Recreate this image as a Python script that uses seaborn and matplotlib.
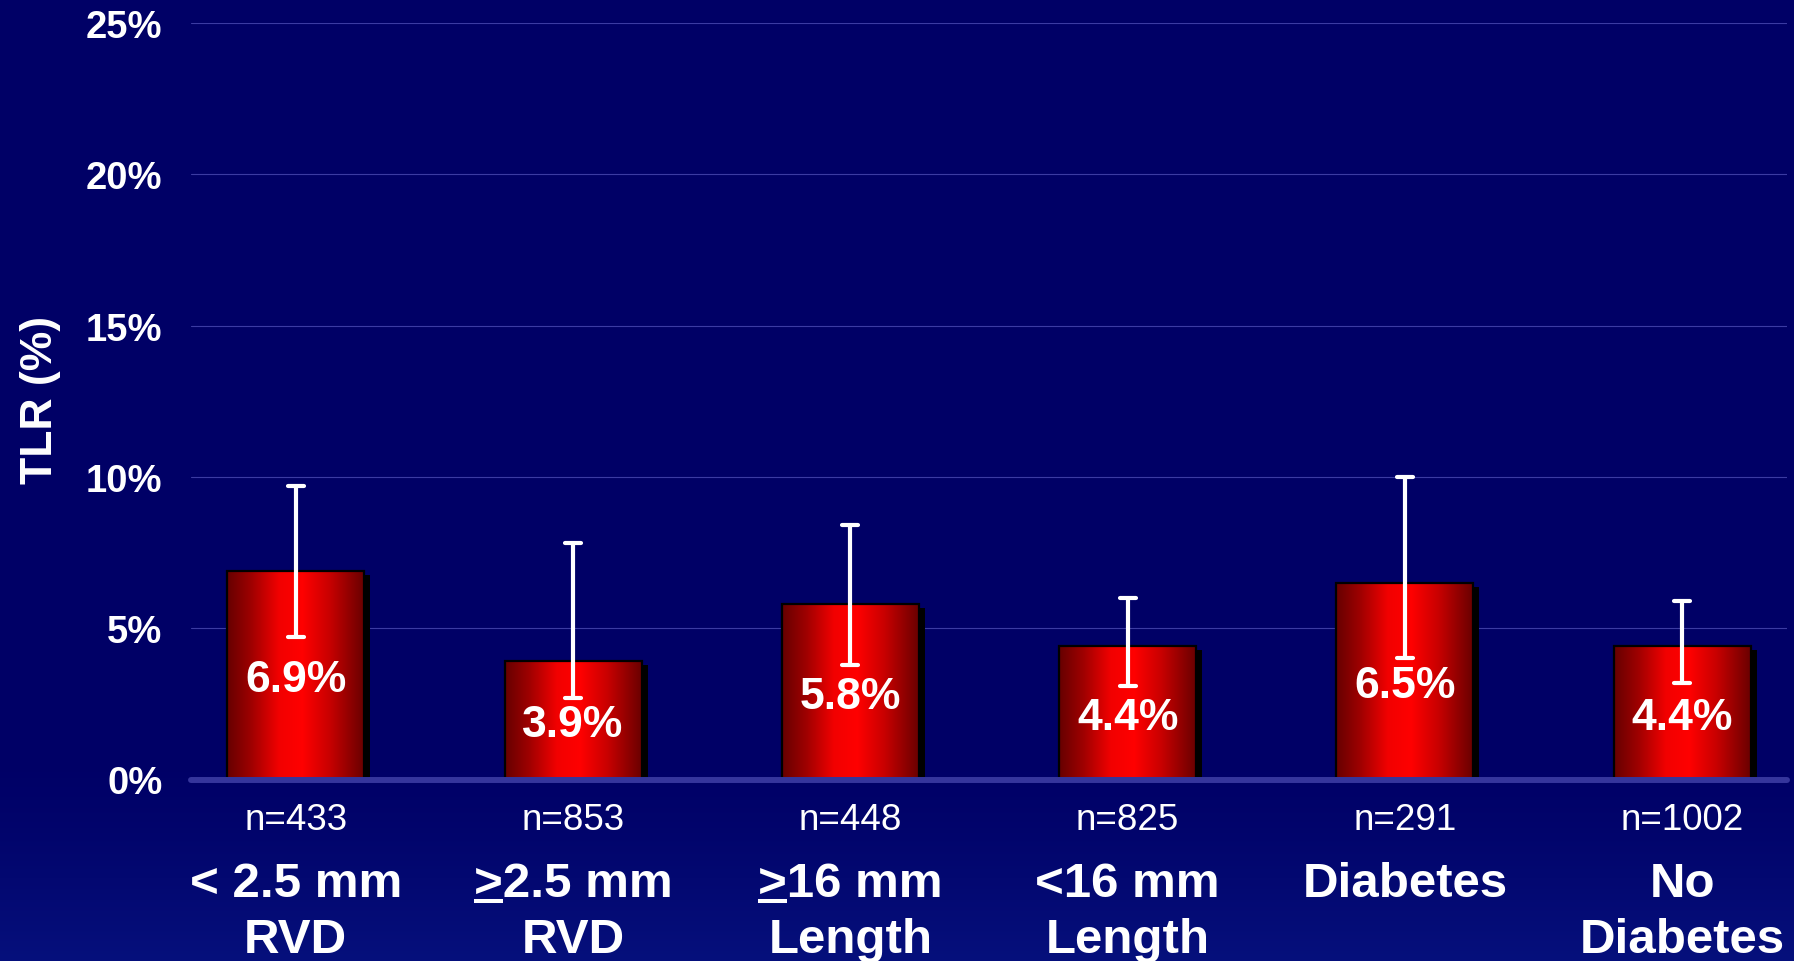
import numpy as np
import pandas as pd
import matplotlib
matplotlib.use("Agg")
import matplotlib.pyplot as plt
import seaborn as sns
from matplotlib.patches import Rectangle
from matplotlib.colors import LinearSegmentedColormap
from matplotlib.transforms import ScaledTranslation
from matplotlib.markers import MarkerStyle
from matplotlib.lines import Line2D

# ---- data -------------------------------------------------------------
groups = ["< 2.5 mm RVD", "\u22652.5 mm RVD", "\u226516 mm Length",
          "<16 mm Length", "Diabetes", "No Diabetes"]
tlr = [6.9, 3.9, 5.8, 4.4, 6.5, 4.4]
ci_low = [4.7, 2.7, 3.8, 3.1, 4.0, 3.2]
ci_high = [9.7, 7.8, 8.4, 6.0, 10.0, 5.9]
n_patients = [433, 853, 448, 825, 291, 1002]
label_line1 = ["< 2.5 mm", ">2.5 mm", ">16 mm", "<16 mm", "Diabetes", "No"]
label_line2 = ["RVD", "RVD", "Length", "Length", "", "Diabetes"]
underlined_lead = [False, True, True, False, False, False]
y_ticks = [0, 5, 10, 15, 20, 25]

# ---- style ------------------------------------------------------------
sns.set_theme(style="white")
plt.rcParams["font.family"] = ["Liberation Sans", "DejaVu Sans"]
BG = "#000066"
W, H = 1794, 962
CAT_SIZE = 35.5

fig = plt.figure(figsize=(W / 100, H / 100), dpi=100, facecolor=BG)

# background: navy that brightens slightly toward the bottom edge
bg_ax = fig.add_axes([0, 0, 1, 1], zorder=-5)
bg_ax.axis("off")
rows = np.linspace(0, 1, H)
t = np.clip((rows - 0.78) / 0.22, 0, 1) ** 1.4
top_c = np.array([0, 0, 102]) / 255
bot_c = np.array([6, 16, 124]) / 255
grad = top_c[None, :] * (1 - t[:, None]) + bot_c[None, :] * t[:, None]
bg_ax.imshow(grad[:, None, :], aspect="auto", extent=[0, 1, 1, 0])
bg_ax.set_xlim(0, 1)
bg_ax.set_ylim(1, 0)

ax = fig.add_axes([191 / W, 1 - 780.5 / H, (1787 - 191) / W, (780.5 - 24) / H])
ax.set_facecolor("none")

df = pd.DataFrame({"group": groups, "tlr": tlr})
sns.barplot(data=df, x="group", y="tlr", color="#e00000", width=0.494,
            errorbar=None, ax=ax)

bar_cmap = LinearSegmentedColormap.from_list(
    "bar_red",
    [(0.0, "#660000"), (0.18, "#a00000"), (0.38, "#f20000"),
     (0.55, "#ff0000"), (0.75, "#c80000"), (1.0, "#6a0000")])
ramp = np.linspace(0, 1, 256)[None, :]
shadow_shift = ScaledTranslation(6 / 100, -4 / 100, fig.dpi_scale_trans)

centers = []
for patch in ax.patches:
    x0, w, h = patch.get_x(), patch.get_width(), patch.get_height()
    centers.append(x0 + w / 2)
    ax.add_patch(Rectangle((x0, 0), w, h, facecolor="black", edgecolor="none",
                           transform=ax.transData + shadow_shift, zorder=2))
    ax.imshow(ramp, cmap=bar_cmap, aspect="auto", extent=[x0, x0 + w, 0, h],
              interpolation="bilinear", zorder=2.5)
    patch.set_facecolor("none")
    patch.set_edgecolor("black")
    patch.set_linewidth(1.6)
    patch.set_zorder(3)

# confidence intervals
tlr_arr = np.array(tlr)
yerr = [tlr_arr - np.array(ci_low), np.array(ci_high) - tlr_arr]
eb = ax.errorbar(centers, tlr, yerr=yerr, fmt="none", ecolor="white",
                 elinewidth=3.0, capsize=6, capthick=3.0, zorder=5)
for cap in eb.lines[1]:
    cap.set_marker(MarkerStyle("_", capstyle="round"))
for col in eb.lines[2]:
    col.set_capstyle("butt")

# value labels inside the bars
for x, v in zip(centers, tlr):
    ax.text(x, v / 2, f"{v}%", ha="center", va="center_baseline",
            color="white", fontsize=32, fontweight="bold", zorder=6)

# axes
ax.set_xlim(-0.378, 5.378)
ax.set_ylim(0, 25)
ax.set_yticks(y_ticks)
ax.set_yticklabels([f"{t}%" for t in y_ticks], fontsize=27.5,
                   fontweight="bold", color="white")
ax.tick_params(axis="y", length=0, pad=20.5)
ax.set_xticks(range(len(groups)))
ax.set_xticklabels([""] * len(groups))
ax.tick_params(axis="x", length=0)
ax.set_xlabel("")
for s in ax.spines.values():
    s.set_visible(False)
ax.yaxis.grid(True, color="#3b3ba2", linewidth=0.8)
ax.xaxis.grid(False)
ax.set_axisbelow(True)
ax.axhline(0, color="#35359c", linewidth=4.3, solid_capstyle="round",
           zorder=7, clip_on=False)

ax.set_ylabel("TLR (%)", fontsize=32, fontweight="bold", color="white")
ax.yaxis.set_label_coords(-0.0815, 0.503)

# category labels under the axis
xt = ax.get_xaxis_transform()
line1_texts = []
for x, n, l1, l2 in zip(centers, n_patients, label_line1, label_line2):
    ax.annotate(f"n={n}", xy=(x, 0), xycoords=xt, xytext=(0, -35.6),
                textcoords="offset points", ha="center", va="baseline",
                fontsize=26.5, color="white", annotation_clip=False)
    t1 = ax.annotate(l1, xy=(x, 0), xycoords=xt, xytext=(0, -83.6),
                     textcoords="offset points", ha="center", va="baseline",
                     fontsize=CAT_SIZE, fontweight="bold", color="white",
                     annotation_clip=False)
    line1_texts.append(t1)
    if l2:
        ax.annotate(l2, xy=(x, 0), xycoords=xt, xytext=(0, -124.0),
                    textcoords="offset points", ha="center", va="baseline",
                    fontsize=CAT_SIZE, fontweight="bold", color="white",
                    annotation_clip=False)

# underline the leading ">" to read as "greater than or equal"
fig.canvas.draw()
renderer = fig.canvas.get_renderer()
probe = fig.text(0, 0, ">", fontsize=CAT_SIZE, fontweight="bold")
gt_width = probe.get_window_extent(renderer).width
probe.remove()
axis_y = ax.transAxes.transform((0, 0))[1]
for t1, flag in zip(line1_texts, underlined_lead):
    if not flag:
        continue
    bb = t1.get_window_extent(renderer)
    y = axis_y - 83.6 * 100 / 72 - 5
    fig.add_artist(Line2D([bb.x0 / W, (bb.x0 + gt_width) / W],
                          [y / H, y / H], transform=fig.transFigure,
                          color="white", linewidth=2.9,
                          solid_capstyle="butt"))

fig.savefig("out.png", dpi=100, facecolor=fig.get_facecolor())
